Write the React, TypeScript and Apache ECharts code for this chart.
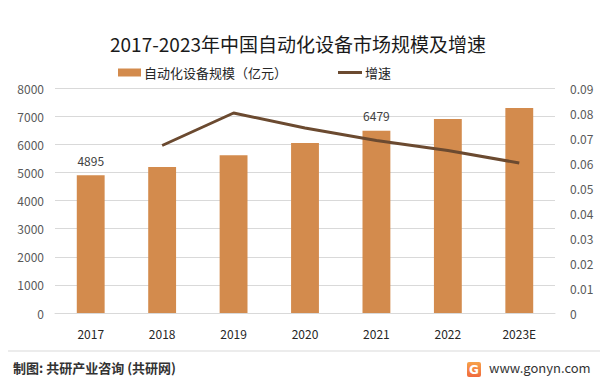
import React, { useEffect, useRef } from "react";
import * as echarts from "echarts";

const years = ["2017", "2018", "2019", "2020", "2021", "2022", "2023E"];
const marketSize = [4895, 5190, 5610, 6045, 6479, 6900, 7290];
const growth = [null, 0.067, 0.08, 0.074, 0.069, 0.065, 0.06];
const labeledYears = ["2017", "2021"];
const leftTicks = [0, 8000, 1000];
const rightTicks = [0, 0.09, 0.01];

const title = "2017-2023年中国自动化设备市场规模及增速";
const barName = "自动化设备规模（亿元）";
const lineName = "增速";
const source = "制图: 共研产业咨询 (共研网)";
const site = "www.gonyn.com";

export default function App() {
  const ref = useRef<HTMLDivElement>(null);
  useEffect(() => {
    const chart = echarts.init(ref.current!, null, { renderer: "svg" });
    const font = "'Noto Sans CJK SC', 'Microsoft YaHei', sans-serif";
    chart.setOption({
      animation: false,
      backgroundColor: "#fff",
      textStyle: { fontFamily: font },
      title: {
        text: title,
        left: 293,
        textAlign: "center",
        top: 29,
        textStyle: { fontSize: 19, fontWeight: "normal", color: "#1a1a1a", fontFamily: font },
      },
      legend: [
        {
          data: [barName],
          left: 113,
          top: 61,
          itemWidth: 23,
          itemHeight: 8,
          itemGap: 4,
          icon: "rect",
          textStyle: { fontSize: 13, color: "#262626", fontFamily: font, padding: [0, 0, 0, -2] },
        },
        {
          data: [{ name: lineName, icon: "rect" }],
          left: 333,
          top: 61,
          itemWidth: 24,
          itemHeight: 3,
          textStyle: { fontSize: 13, color: "#262626", fontFamily: font, padding: [0, 0, 0, -2] },
        },
      ],
      grid: { left: 55, right: 58, top: 88, bottom: 73 },
      xAxis: {
        type: "category",
        data: years,
        axisLine: { show: true, lineStyle: { color: "#d9d9d9" } },
        axisTick: { show: false },
        axisLabel: { fontSize: 12, color: "#262626", margin: 14 },
      },
      yAxis: [
        {
          type: "value",
          min: leftTicks[0],
          max: leftTicks[1],
          interval: leftTicks[2],
          axisLine: { show: false },
          axisTick: { show: false },
          axisLabel: { fontSize: 12, color: "#595959", margin: 11, formatter: (v: number) => String(v) },
          splitLine: { lineStyle: { color: "#d9d9d9" } },
        },
        {
          type: "value",
          min: rightTicks[0],
          max: rightTicks[1],
          interval: rightTicks[2],
          axisLine: { show: false },
          axisTick: { show: false },
          axisLabel: {
            fontSize: 12,
            color: "#595959",
            margin: 15,
            formatter: (v: number) => String(Math.round(v * 100) / 100),
          },
          splitLine: { show: false },
        },
      ],
      series: [
        {
          name: barName,
          type: "bar",
          data: marketSize.map((v, i) => ({
            value: v,
            label: {
              show: labeledYears.includes(years[i]),
              position: "top",
              distance: 9,
              fontSize: 12,
              color: "#404040",
            },
          })),
          barWidth: "39%",
          itemStyle: { color: "#D38B4D" },
        },
        {
          name: lineName,
          type: "line",
          yAxisIndex: 1,
          data: growth,
          symbol: "none",
          lineStyle: { color: "#6B4A30", width: 3 },
          itemStyle: { color: "#6B4A30" },
        },
      ],
      graphic: [
        {
          type: "rect",
          shape: { x: 3, y: 4, width: 605, height: 378 },
          style: { fill: "none", stroke: "#d9d9d9", lineWidth: 1 },
          silent: true,
        },
        {
          type: "line",
          shape: { x1: 8, y1: 351, x2: 600, y2: 351 },
          style: { stroke: "#d9d9d9", lineWidth: 1 },
        },
        {
          type: "text",
          left: 13,
          top: 361,
          style: { text: source, fontSize: 13, fill: "#333", fontFamily: font, fontWeight: "bold" },
        },
        {
          type: "rect",
          shape: { x: 467, y: 362, width: 14, height: 15, r: 2 },
          style: {
            fill: new echarts.graphic.LinearGradient(0, 0, 0, 1, [
              { offset: 0, color: "#F7A24A" },
              { offset: 1, color: "#F06A3C" },
            ]),
          },
        },
        {
          type: "text",
          x: 474,
          y: 369.5,
          style: {
            text: "G",
            fontSize: 12,
            fontWeight: "bold",
            fill: "#fff",
            align: "center",
            verticalAlign: "middle",
            fontFamily: "DejaVu Sans",
          },
        },
        {
          type: "text",
          left: 489,
          top: 361,
          style: { text: site, fontSize: 13, fill: "#333", fontFamily: font },
        },
      ],
    });
    return () => chart.dispose();
  }, []);
  return <div ref={ref} style={{ width: 613, height: 386, margin: -8 }} />;
}
